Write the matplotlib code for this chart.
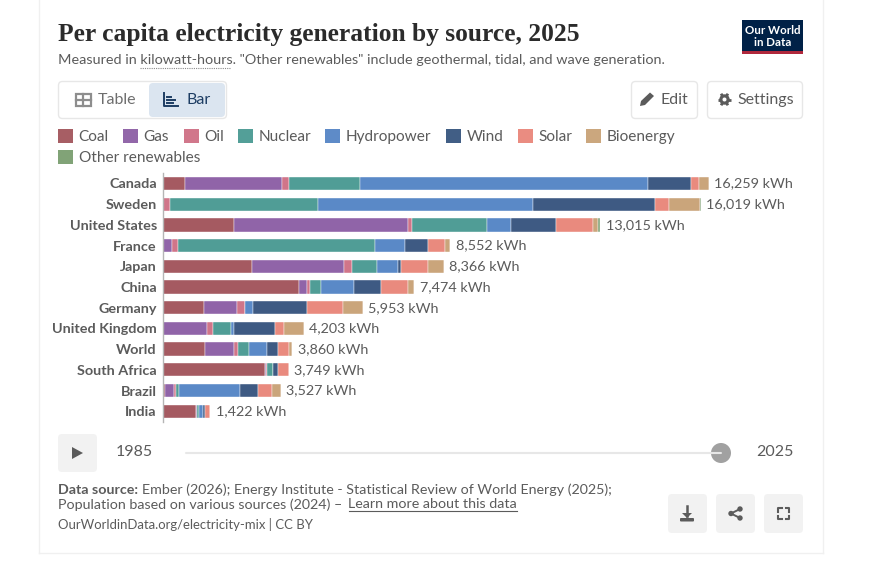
import matplotlib
matplotlib.use("Agg")
import matplotlib.pyplot as plt
from matplotlib.patches import FancyBboxPatch, Rectangle, Circle, Polygon

plt.rcParams['font.family'] = ['Lato', 'DejaVu Sans']

countries = ["Canada", "Sweden", "United States", "France", "Japan", "China", "Germany",
             "United Kingdom", "World", "South Africa", "Brazil", "India"]
totals = [16259, 16019, 13015, 8552, 8366, 7474, 5953, 4203, 3860, 3749, 3527, 1422]
sources = ["Coal", "Gas", "Oil", "Nuclear", "Hydropower", "Wind", "Solar", "Bioenergy", "Other renewables"]
coal = [675, 0, 2135, 0, 2671, 4071, 1241, 0, 1271, 3058, 79, 1003]
gas = [2880, 20, 5183, 288, 2741, 238, 973, 1311, 844, 20, 268, 25]
oil = [199, 199, 119, 159, 228, 70, 228, 199, 119, 30, 50, 3]
nuclear = [2115, 4400, 2234, 5879, 755, 328, 0, 516, 328, 169, 79, 38]
hydro = [8596, 6400, 705, 894, 616, 993, 248, 89, 546, 5, 1827, 130]
wind = [1271, 3644, 1340, 685, 99, 794, 1599, 1221, 328, 159, 546, 65]
solar = [248, 427, 1112, 497, 804, 824, 1072, 278, 338, 318, 417, 158]
bio = [275, 923, 139, 159, 457, 169, 596, 596, 79, 0, 258, 0]
other = [0, 6, 60, 0, 0, 0, 0, 0, 10, 0, 0, 0]
series = [coal, gas, oil, nuclear, hydro, wind, solar, bio, other]
colors = ["#A2555C", "#8C5FA5", "#CF7085", "#4A9A93", "#5585C5", "#37557F", "#E9867A", "#C9A277", "#7A9E70"]

W, H = 880, 565
fig = plt.figure(figsize=(W / 100, H / 100), dpi=100, facecolor="white")
ov = fig.add_axes([0, 0, 1, 1], zorder=0)
ov.set_xlim(0, W); ov.set_ylim(H, 0); ov.axis("off")
top = fig.add_axes([0, 0, 1, 1], zorder=5)
top.set_xlim(0, W); top.set_ylim(H, 0); top.axis("off"); top.patch.set_alpha(0)

PX = 0.72  # pt per css px at dpi 100


def T(x, y, s, size, color="#5b5b5b", **kw):
    kw.setdefault("va", "center")
    return top.text(x, y + 1, s, fontsize=size * PX, color=color, **kw)


def box(x, y, w, h, fc, ec="none", r=4, lw=1):
    p = FancyBboxPatch((x + r, y + r), w - 2 * r, h - 2 * r, boxstyle=f"round,pad={r}",
                       fc=fc, ec=ec, lw=lw)
    ov.add_patch(p)


# card border
ov.plot([38.5, 38.5], [0, 552.5], color="#f0f0f0", lw=1)
ov.plot([822.5, 822.5], [0, 552.5], color="#f0f0f0", lw=1)
ov.plot([38.5, 822.5], [552.5, 552.5], color="#f0f0f0", lw=1)

# header
T(58, 33.5, "Per capita electricity generation by source, 2025", 25.55, "#2b2b2b",
  family=["Liberation Serif"], weight="bold")
T(58, 59.5, 'Measured in kilowatt-hours. "Other renewables" include geothermal, tidal, and wave generation.',
  14.34, "#5b5b5b")
ov.plot([139.5, 231], [67.5, 67.5], color="#8a8a8a", lw=0.8, ls=(0, (1, 1)))
ov.add_patch(Rectangle((742, 20), 61, 34, fc="#002147", ec="none"))
ov.add_patch(Rectangle((742, 51), 61, 3, fc="#B0283C", ec="none"))
T(772.5, 29.5, "Our World", 11.5, "white", ha="center", weight="bold")
T(772.5, 41.5, "in Data", 11.5, "white", ha="center", weight="bold")

# tabs
box(58.5, 81.5, 168, 37, "white", "#e7e7e7")
box(149, 83, 76, 34, "#DBE5F0")
T(98, 99, "Table", 16, "#6e6e6e")
T(187, 99, "Bar", 16, "#1d3d63")
ov.add_patch(Rectangle((75.5, 93.5), 15, 12, fc="none", ec="#8d8d8d", lw=1.6))
ov.plot([75.5, 90.5], [99.5, 99.5], color="#8d8d8d", lw=1.6)
ov.plot([83, 83], [93.5, 105.5], color="#8d8d8d", lw=1.6)
ov.plot([163.5, 163.5, 178], [93, 105.5, 105.5], color="#1d3d63", lw=1.4)
for yy, xe in [(96.5, 171), (99.5, 175), (102.5, 173)]:
    ov.plot([167, xe], [yy, yy], color="#1d3d63", lw=1.4)

box(631.5, 81.5, 66, 37, "white", "#e7e7e7")
box(707.5, 81.5, 95, 37, "white", "#e7e7e7")
T(661, 99, "Edit", 16, "#5b5b5b")
T(737, 99, "Settings", 16, "#5b5b5b")
ov.add_patch(Polygon([(640, 106), (641, 101), (650, 92.5), (654, 96), (645, 105)], fc="#5b5b5b"))
ov.add_patch(Circle((724.5, 99.5), 5.2, fc="#5b5b5b", zorder=3))
ov.add_patch(Circle((724.5, 99.5), 2, fc="white", zorder=4))
for a, b in [(-6.7, 0), (6.7, 0), (-3.4, -5.8), (3.4, 5.8), (-3.4, 5.8), (3.4, -5.8)]:
    ov.plot([724.5, 724.5 + a], [99.5, 99.5 + b], color="#5b5b5b", lw=2.0, solid_capstyle="butt", zorder=2)

# legend
leg_x = [58, 123, 184, 238, 325, 446, 518, 586]
for i, s in enumerate(sources):
    x = leg_x[i] if i < 8 else 58
    y = 136 if i < 8 else 156.5
    ov.add_patch(Rectangle((x, y - 7), 15, 14, fc=colors[i], ec="none", alpha=0.95))
    T(x + 20.7, y, s, 15.4, "#5b5b5b")

# chart
SC = 29.78
x0, x1, y0, y1 = 162.7, 803.0, 173.0, 422.0
ax = fig.add_axes([x0 / W, 1 - y1 / H, (x1 - x0) / W, (y1 - y0) / H], zorder=2)
ax.patch.set_alpha(0)
ax.set_xlim(0, (x1 - x0) * SC)
ax.set_ylim((y1 - 183.5) / 20.7, (y0 - 183.5) / 20.7)
ax.set_yticks(range(len(countries)))
ax.set_yticklabels(countries, fontsize=14.4 * PX, color="#5b5b5b", weight="bold")
ax.tick_params(axis="y", length=0, pad=4.2)
ax.set_xticks([])
for k, sp in ax.spines.items():
    sp.set_visible(k == "left")
ax.spines["left"].set_color("#b5b5b5")
ax.spines["left"].set_linewidth(1)
left = [0] * len(countries)
for s, vals, c in zip(sources, series, colors):
    ax.barh(range(len(countries)), vals, left=left, height=13.3 / 20.7, color=c,
            edgecolor="white", linewidth=0.3, label=s, alpha=0.97)
    left = [a + b for a, b in zip(left, vals)]
for i, t in enumerate(totals):
    ax.annotate(f"{t:,} kWh", (left[i], i), xytext=(3.9, 0), textcoords="offset points",
                va="center", fontsize=14.4 * PX, color="#5b5b5b")

# timeline
box(58, 434, 39, 38, "#F2F2F2", r=4)
ov.add_patch(Polygon([(72, 447), (83, 453), (72, 459)], fc="#5b5b5b"))
T(116, 451, "1985", 16, "#5b5b5b")
ov.plot([186, 721], [453, 453], color="#E7E7E7", lw=1.5, solid_capstyle="round")
ov.add_patch(Circle((721, 453), 10, fc="#A1A1A1", ec="none"))
T(756, 451, "2025", 16, "#5b5b5b")

# footer
T(58, 488.5, "Data source:", 14.2, "#5b5b5b", weight="bold")
T(142.5, 488.5, "Ember (2026); Energy Institute - Statistical Review of World Energy (2025);", 14.2, "#5b5b5b")
T(58, 503.5, "Population based on various sources (2024) – ", 14.2, "#5b5b5b")
T(348.5, 503.5, "Learn more about this data", 14.2, "#5b5b5b")
ov.plot([348.5, 517], [511, 511], color="#5b5b5b", lw=0.8)
T(58, 523.5, "OurWorldinData.org/electricity-mix | CC BY", 13.1, "#5b5b5b")

for x in (668, 716, 764):
    box(x, 494, 39, 39, "#F2F2F2", r=4)
# download
ov.plot([687, 687], [506, 516], color="#5b5b5b", lw=1.8)
ov.add_patch(Polygon([(682, 513), (692, 513), (687, 518)], fc="#5b5b5b"))
ov.add_patch(FancyBboxPatch((681, 519), 12, 1.5, boxstyle="round,pad=1", fc="#5b5b5b", ec="none"))
# share
ov.plot([740, 731, 740], [509, 513.5, 518], color="#5b5b5b", lw=1.4)
for cx, cy in [(740, 509), (731, 513.5), (740, 518)]:
    ov.add_patch(Circle((cx, cy), 2.7, fc="#5b5b5b"))
# fullscreen
for cx, cy, dx, dy in [(778, 508, 1, 1), (789, 508, -1, 1), (778, 519, 1, -1), (789, 519, -1, -1)]:
    ov.plot([cx, cx, cx + 3.5 * dx], [cy + 3.5 * dy, cy, cy], color="#5b5b5b", lw=1.5)

fig.savefig("out.png", dpi=100, facecolor="white")
